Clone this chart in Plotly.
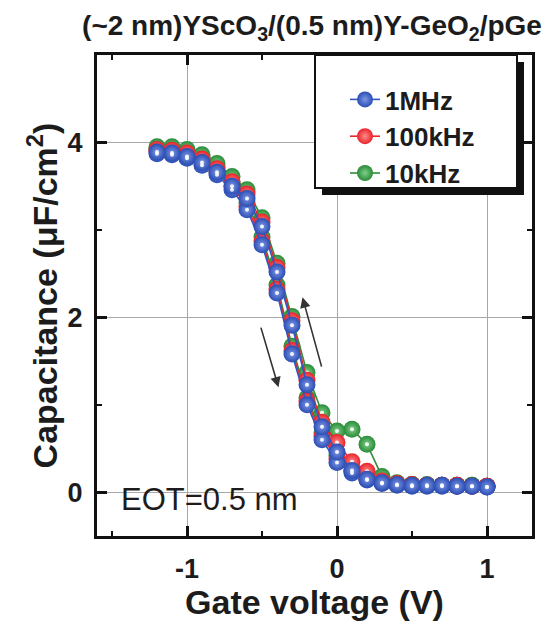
import plotly.graph_objects as go

# Gate voltage sweep points (V)
voltage = [-1.2, -1.1, -1.0, -0.9, -0.8, -0.7, -0.6, -0.5, -0.4, -0.3, -0.2, -0.1,
           0.0, 0.1, 0.2, 0.3, 0.4, 0.5, 0.6, 0.7, 0.8, 0.9, 1.0]

# Capacitance (uF/cm^2): forward sweep (-1.2 -> 1.0) and reverse sweep (1.0 -> -1.2)
c_1mhz_fwd = [3.87, 3.86, 3.82, 3.74, 3.63, 3.46, 3.23, 2.83, 2.28, 1.58, 1.00, 0.60,
              0.34, 0.22, 0.14, 0.10, 0.08, 0.07, 0.07, 0.07, 0.07, 0.07, 0.06]
c_1mhz_rev = [3.89, 3.88, 3.84, 3.77, 3.66, 3.50, 3.36, 3.04, 2.52, 1.91, 1.23, 0.75,
              0.46, 0.25, 0.15, 0.11, 0.09, 0.08, 0.08, 0.08, 0.07, 0.07, 0.06]

c_100khz_fwd = [3.90, 3.89, 3.86, 3.78, 3.67, 3.50, 3.27, 2.87, 2.32, 1.62, 1.04, 0.64,
                0.38, 0.24, 0.15, 0.11, 0.09, 0.08, 0.08, 0.08, 0.07, 0.07, 0.07]
c_100khz_rev = [3.92, 3.91, 3.88, 3.81, 3.70, 3.55, 3.41, 3.09, 2.57, 1.96, 1.28, 0.80,
                0.57, 0.35, 0.24, 0.13, 0.10, 0.09, 0.08, 0.08, 0.08, 0.07, 0.07]

c_10khz_fwd = [3.93, 3.93, 3.90, 3.83, 3.72, 3.55, 3.31, 2.92, 2.37, 1.67, 1.08, 0.68,
               0.42, 0.26, 0.17, 0.12, 0.10, 0.09, 0.08, 0.08, 0.08, 0.08, 0.07]
c_10khz_rev = [3.95, 3.95, 3.92, 3.86, 3.76, 3.61, 3.46, 3.14, 2.62, 2.01, 1.37, 0.91,
               0.70, 0.72, 0.55, 0.18, 0.11, 0.09, 0.09, 0.08, 0.08, 0.08, 0.07]

series_names = ["1MHz", "100kHz", "10kHz"]
FONT = "Liberation Sans, Arial, Helvetica, sans-serif"
TEXT = "#1c1c1c"

styles = {
    "1MHz": dict(line="#3355c4", ball="#2a4cb2", glow="#7d97e6", rank=1),
    "100kHz": dict(line="#e8262c", ball="#e8222a", glow="#ff8a8a", rank=2),
    "10kHz": dict(line="#2e8c3a", ball="#2a8a38", glow="#7fd08a", rank=3),
}
data = {
    "1MHz": (c_1mhz_fwd, c_1mhz_rev),
    "100kHz": (c_100khz_fwd, c_100khz_rev),
    "10kHz": (c_10khz_fwd, c_10khz_rev),
}

# plot-area geometry in pixels (used for paper-coordinate placement)
W, H = 552, 621
ML, MR, MT, MB = 97, 20, 55, 85
PW, PH = W - ML - MR, H - MT - MB


def px_x(p):
    return (p - ML) / PW


def px_y(p):
    return 1 - (p - MT) / PH


fig = go.Figure()

# draw lower frequencies first so the 1MHz balls sit on top
for name in reversed(series_names):
    fwd, rev = data[name]
    st = styles[name]
    xs = voltage + voltage[::-1]
    ys = fwd + rev[::-1]
    fig.add_trace(go.Scatter(
        x=xs, y=ys, mode="lines+markers", name=name, legendrank=st["rank"],
        line=dict(color=st["line"], width=1.6),
        marker=dict(size=17, color=st["ball"],
                    gradient=dict(type="radial", color=st["glow"]),
                    line=dict(width=0)),
    ))
    fig.add_trace(go.Scatter(
        x=xs, y=ys, mode="markers", showlegend=False, hoverinfo="skip",
        marker=dict(size=4, color="rgba(255,255,255,0.9)", line=dict(width=0)),
    ))

# sweep-direction arrows
fig.add_annotation(x=-0.39, y=1.20, ax=-0.51, ay=1.90, xref="x", yref="y",
                   axref="x", ayref="y", showarrow=True, arrowhead=2,
                   arrowsize=1.3, arrowwidth=1.6, arrowcolor="#333333", text="")
fig.add_annotation(x=-0.23, y=2.23, ax=-0.10, ay=1.42, xref="x", yref="y",
                   axref="x", ayref="y", showarrow=True, arrowhead=2,
                   arrowsize=1.3, arrowwidth=1.6, arrowcolor="#333333", text="")

fig.add_annotation(x=-1.455, y=-0.08, xref="x", yref="y", showarrow=False,
                   text="EOT=0.5 nm", xanchor="left", yanchor="middle",
                   font=dict(family=FONT, size=31, color=TEXT))

# legend frame with drop shadow
fig.add_shape(type="rect", xref="paper", yref="paper", layer="above",
              x0=px_x(322), x1=px_x(524), y0=px_y(195), y1=px_y(62),
              fillcolor="#111111", line=dict(width=0))
fig.add_shape(type="rect", xref="paper", yref="paper", layer="above",
              x0=px_x(315), x1=px_x(517), y0=px_y(188), y1=px_y(55),
              fillcolor="white", line=dict(color="#111111", width=2))

axis_common = dict(
    showline=True, linewidth=3, linecolor="#111111", mirror="ticks",
    ticks="inside", ticklen=10, tickwidth=2.5, tickcolor="#111111",
    showgrid=True, gridcolor="#a8a8a8", gridwidth=1.3, zeroline=False,
    tickfont=dict(family=FONT, size=27, color=TEXT, weight="bold"),
)

fig.update_xaxes(
    range=[-1.6, 1.3], tickvals=[-1, 0, 1], ticktext=["-1", "0", "1"],
    minor=dict(dtick=0.5, tick0=0, ticks="inside", ticklen=5, tickwidth=2,
               tickcolor="#111111", showgrid=False),
    title=dict(text="Gate voltage (V)", standoff=7,
               font=dict(family=FONT, size=34, color=TEXT, weight="bold")),
    ticklabelstandoff=7,
    **axis_common,
)
fig.update_yaxes(
    range=[-0.5, 5.0], tickvals=[0, 2, 4],
    minor=dict(dtick=1, tick0=0, ticks="inside", ticklen=5, tickwidth=2,
               tickcolor="#111111", showgrid=False),
    title=dict(text="Capacitance (\u03bcF/cm<sup>2</sup>)", standoff=0,
               font=dict(family=FONT, size=34, color=TEXT, weight="bold")),
    ticklabelstandoff=6,
    **axis_common,
)

fig.update_layout(
    width=W, height=H,
    margin=dict(l=ML, r=MR, t=MT, b=MB, autoexpand=False),
    paper_bgcolor="white", plot_bgcolor="white",
    title=dict(text="(~2 nm)YScO<sub>3</sub>/(0.5 nm)Y-GeO<sub>2</sub>/pGe",
               x=312 / W, xanchor="center", y=1 - 25 / H, yanchor="middle",
               font=dict(family=FONT, size=28, color=TEXT, weight="bold")),
    legend=dict(x=px_x(345), y=px_y(76), xanchor="left", yanchor="top",
                bgcolor="rgba(0,0,0,0)", borderwidth=0,
                font=dict(family=FONT, size=26, color=TEXT, weight="bold"),
                itemwidth=30, tracegroupgap=0),
    showlegend=True,
)

fig.write_html("out.html")
